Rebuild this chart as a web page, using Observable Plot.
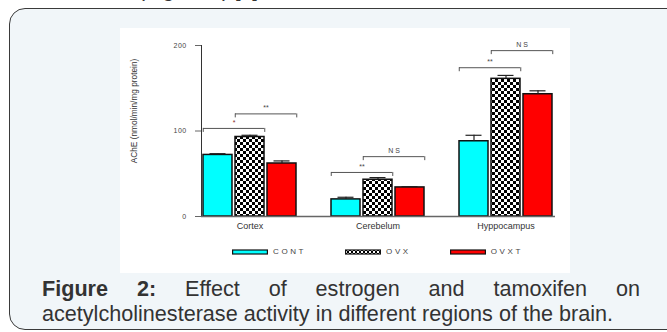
<!DOCTYPE html>
<html><head><meta charset="utf-8">
<script src="https://cdn.jsdelivr.net/npm/d3@7"></script>
<script src="https://cdn.jsdelivr.net/npm/@observablehq/plot@0.6"></script>
<style>
html,body{margin:0;padding:0;background:#fff;width:667px;height:332px;overflow:hidden;font-family:Arial,"Liberation Sans",sans-serif;}
#top{position:absolute;left:138px;top:-21px;font:21px/21px Arial,"Liberation Sans",sans-serif;color:#333;white-space:nowrap;}
#panel{position:absolute;left:9px;top:8px;width:720px;height:320px;background:#f1f6f9;border:1.5px solid #3a3a3a;border-radius:16px;}
#chart{position:absolute;left:120px;top:28px;width:450px;height:245px;background:#fff;}
#chart svg{display:block;}
#chart g[aria-label^="y-axis"] text{font-size:7px;letter-spacing:0.4px;fill:#444;}
#chart g[aria-label^="x-axis"] text{font-size:9px;fill:#333;}
#legend{position:absolute;left:112px;top:219px;display:flex;gap:39px;align-items:center;font-size:8px;color:#444;letter-spacing:2.6px;}
#legend .item{display:flex;align-items:center;gap:5px;}
#legend svg{display:block;}
#caption{position:absolute;left:42px;top:276px;width:598px;font:21.6px/25px Arial,"Liberation Sans",sans-serif;color:#333;}
#caption .l1{text-align:justify;text-align-last:justify;}
#caption .l2{white-space:nowrap;}
</style>
</head><body>
<div id="top">(Figure 2) [1].</div>
<div id="panel"></div>
<div id="chart"><div id="legend"></div></div>
<div id="caption"><div class="l1"><b>Figure 2:</b> Effect of estrogen and tamoxifen on</div><div class="l2">acetylcholinesterase activity in different regions of the brain.</div></div>
<script>
// ---- data ----
const regions = ["Cortex", "Cerebelum", "Hyppocampus"];
const groups = ["CONT", "OVX", "OVXT"];
const legendLabels = ["CONT", "OVX", "OVXT"];
const contValues = [72, 20, 88];
const contErrors = [1.5, 2.5, 7];
const ovxValues = [93, 43, 161];
const ovxErrors = [2, 2.5, 4];
const ovxtValues = [62, 34, 143];
const ovxtErrors = [3, 1, 4];
const yTicks = [0, 100, 200];
const yLabel = "AChE (nmol/min/mg protein)";
// significance brackets: region, from group, to group, height, label
const sigRegions = ["Cortex", "Cortex", "Cerebelum", "Cerebelum", "Hyppocampus", "Hyppocampus"];
const sigFrom = ["CONT", "OVX", "CONT", "OVX", "CONT", "OVX"];
const sigTo = ["OVX", "OVXT", "OVX", "OVXT", "OVX", "OVXT"];
const sigHeights = [103, 120, 51.5, 70, 174, 194];
const sigLabels = ["*", "**", "**", "N S", "**", "N S"];

// ---- build table ----
const seriesValues = [contValues, ovxValues, ovxtValues];
const seriesErrors = [contErrors, ovxErrors, ovxtErrors];
const key = (r, g) => r + "|" + g;
const data = [];
regions.forEach((r, i) => groups.forEach((g, j) => data.push({region: r, group: g, key: key(r, g), value: seriesValues[j][i], err: seriesErrors[j][i]})));
const domain = [];
regions.forEach((r, i) => { groups.forEach(g => domain.push(key(r, g))); if (i < regions.length - 1) domain.push("gap" + i); });
const labelKeys = new Map(regions.map(r => [key(r, groups[1]), r]));
const sig = sigRegions.map((r, i) => ({from: key(r, sigFrom[i]), to: key(r, sigTo[i]), y: sigHeights[i], label: sigLabels[i]}));

// ---- layout ----
const W = 450, H = 212, mL = 81, mR = 15, mT = 17, mB = 24, padIn = 0.08, padOut = 0.06;
const step = (W - mL - mR) / (domain.length - padIn + 2 * padOut);
const bw = step * (1 - padIn);
const axisColor = "#666";

const chart = Plot.plot({
  width: W, height: H,
  marginLeft: mL, marginRight: mR, marginTop: mT, marginBottom: mB,
  style: {fontFamily: "Arial, 'Liberation Sans', sans-serif", fontSize: "9px", color: "#333", background: "white"},
  x: {domain, paddingInner: padIn, paddingOuter: padOut, label: null, tickSize: 0, tickPadding: 6,
      tickFormat: k => labelKeys.get(k) ?? ""},
  y: {domain: [0, 200], ticks: yTicks, tickSize: 6, tickPadding: 9, line: true, label: null},
  color: {domain: groups, range: ["#00ffff", "url(#checker)", "#ff0000"]},
  marks: [
    Plot.barY(data, {x: "key", y: "value", fill: "group", stroke: "#111", strokeWidth: 1.5}),
    Plot.ruleX(data, {x: "key", y1: "value", y2: d => d.value + d.err, stroke: "#222", strokeWidth: 1.2}),
    Plot.tickY(data, {x: "key", y: d => d.value + d.err, stroke: "#222", strokeWidth: 1.2, insetLeft: 6.5, insetRight: 6.5}),
    Plot.ruleY([0], {stroke: axisColor, strokeWidth: 1.3}),
    Plot.ruleY(sig, {x1: "from", x2: "to", y: "y", stroke: "#555", strokeWidth: 1}),
    Plot.ruleX(sig, {x: "from", y1: "y", y2: "y", insetBottom: -4, dx: -bw / 2, stroke: "#555", strokeWidth: 1}),
    Plot.ruleX(sig, {x: "to", y1: "y", y2: "y", insetBottom: -4, dx: bw / 2, stroke: "#555", strokeWidth: 1}),
    Plot.text(sig, {x: "from", y: "y", text: "label", dx: step / 2, dy: -6, fontSize: 7, fill: d => d.label === "*" ? "#8a2a2a" : "#444", style: "letter-spacing:1.2px"}),
    Plot.text([yLabel], {text: d => d, frameAnchor: "left", textAnchor: "middle", rotate: -90, dx: -67, dy: -20, fontSize: 8.3, fill: "#333"})
  ]
});
const svg = d3.select(chart.tagName.toLowerCase() === "svg" ? chart : chart.querySelector("svg"));
const defs = svg.insert("defs", ":first-child");
const pat = defs.append("pattern").attr("id", "checker").attr("width", 6).attr("height", 6).attr("patternUnits", "userSpaceOnUse");
pat.append("rect").attr("width", 6).attr("height", 6).attr("fill", "white");
pat.append("rect").attr("width", 3).attr("height", 3).attr("fill", "black");
pat.append("rect").attr("x", 3).attr("y", 3).attr("width", 3).attr("height", 3).attr("fill", "black");
svg.selectAll('g[aria-label^="y-axis"] line, g[aria-label^="y-axis"] path').attr("stroke", axisColor);
document.getElementById("chart").prepend(chart);

// ---- legend ----
const legend = d3.select("#legend");
const swFill = ["#00ffff", "url(#checkerSmall)", "#ff0000"];
legendLabels.forEach((lab, i) => {
  const it = legend.append("div").attr("class", "item");
  const s = it.append("svg").attr("width", 36).attr("height", 6);
  if (i === 1) {
    const p = s.append("defs").append("pattern").attr("id", "checkerSmall").attr("width", 4).attr("height", 4).attr("patternUnits", "userSpaceOnUse");
    p.append("rect").attr("width", 4).attr("height", 4).attr("fill", "white");
    p.append("rect").attr("width", 2).attr("height", 2).attr("fill", "black");
    p.append("rect").attr("x", 2).attr("y", 2).attr("width", 2).attr("height", 2).attr("fill", "black");
  }
  s.append("rect").attr("x", 0.6).attr("y", 1).attr("width", 34.8).attr("height", 4).attr("fill", swFill[i]).attr("stroke", "#111").attr("stroke-width", 1.2);
  it.append("span").text(lab);
});
</script>
</body></html>
